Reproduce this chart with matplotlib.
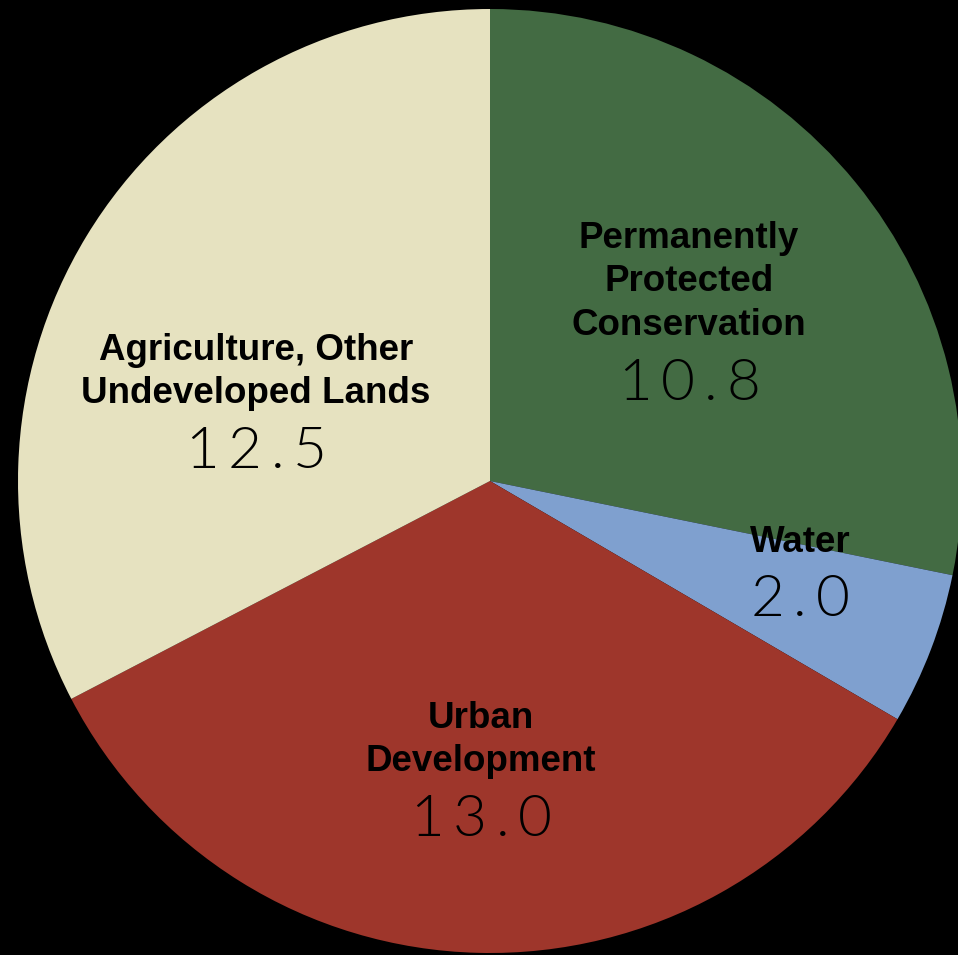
import matplotlib
matplotlib.use("Agg")
import matplotlib.pyplot as plt

# Land use shares (values as printed on the wedges)
categories = ["Permanently\nProtected\nConservation", "Water", "Urban\nDevelopment",
              "Agriculture, Other\nUndeveloped Lands"]
values = [10.8, 2.0, 13.0, 12.5]
colors = ["#436B43", "#7FA0CF", "#9E362B", "#E6E2C0"]

W, H = 958, 955
fig = plt.figure(figsize=(W / 100, H / 100), dpi=100, facecolor="black")
ax = fig.add_axes([0, 0, 1, 1])
ax.set_facecolor("black")

# pie centre / radius in pixels
cx, cy, r = 490, 481, 472
ax.pie(values, colors=colors, startangle=90, counterclock=False,
       wedgeprops=dict(linewidth=0, edgecolor="none"))
ax.set_xlim(-cx / r, (W - cx) / r)
ax.set_ylim(-(H - cy) / r, cy / r)
ax.set_aspect("equal")
ax.axis("off")

# label anchor (x, y of first line) in pixels from top-left
label_pos = [(689, 238), (800, 542), (481, 718), (256, 350)]
line_gap = 43.5
num_gap = 59
tracking = 9  # extra px between digits

fig.canvas.draw()
renderer = fig.canvas.get_renderer()


def fx(px):
    return px / W


def fy(py):
    return 1 - py / H


def spaced_text(px, py, s, **kw):
    # draw each character on its own so the digits can be spread out
    parts = [fig.text(0, fy(py), ch, ha="left", va="center", **kw) for ch in s]
    widths = [p.get_window_extent(renderer).width for p in parts]
    total = sum(widths) + tracking * (len(s) - 1)
    x = px - total / 2
    for p, w in zip(parts, widths):
        p.set_x(fx(x))
        x += w + tracking


for name, val, (px, py) in zip(categories, values, label_pos):
    lines = name.split("\n")
    for i, line in enumerate(lines):
        fig.text(fx(px), fy(py + i * line_gap), line, ha="center", va="center",
                 fontsize=26.5, fontweight="bold", family="Liberation Sans", color="black")
    ny = py + (len(lines) - 1) * line_gap + num_gap
    spaced_text(px, ny, f"{val:.1f}", fontsize=42, fontweight=300,
                family="Lato", color="black")

fig.savefig("out.png", dpi=100, facecolor="black")
